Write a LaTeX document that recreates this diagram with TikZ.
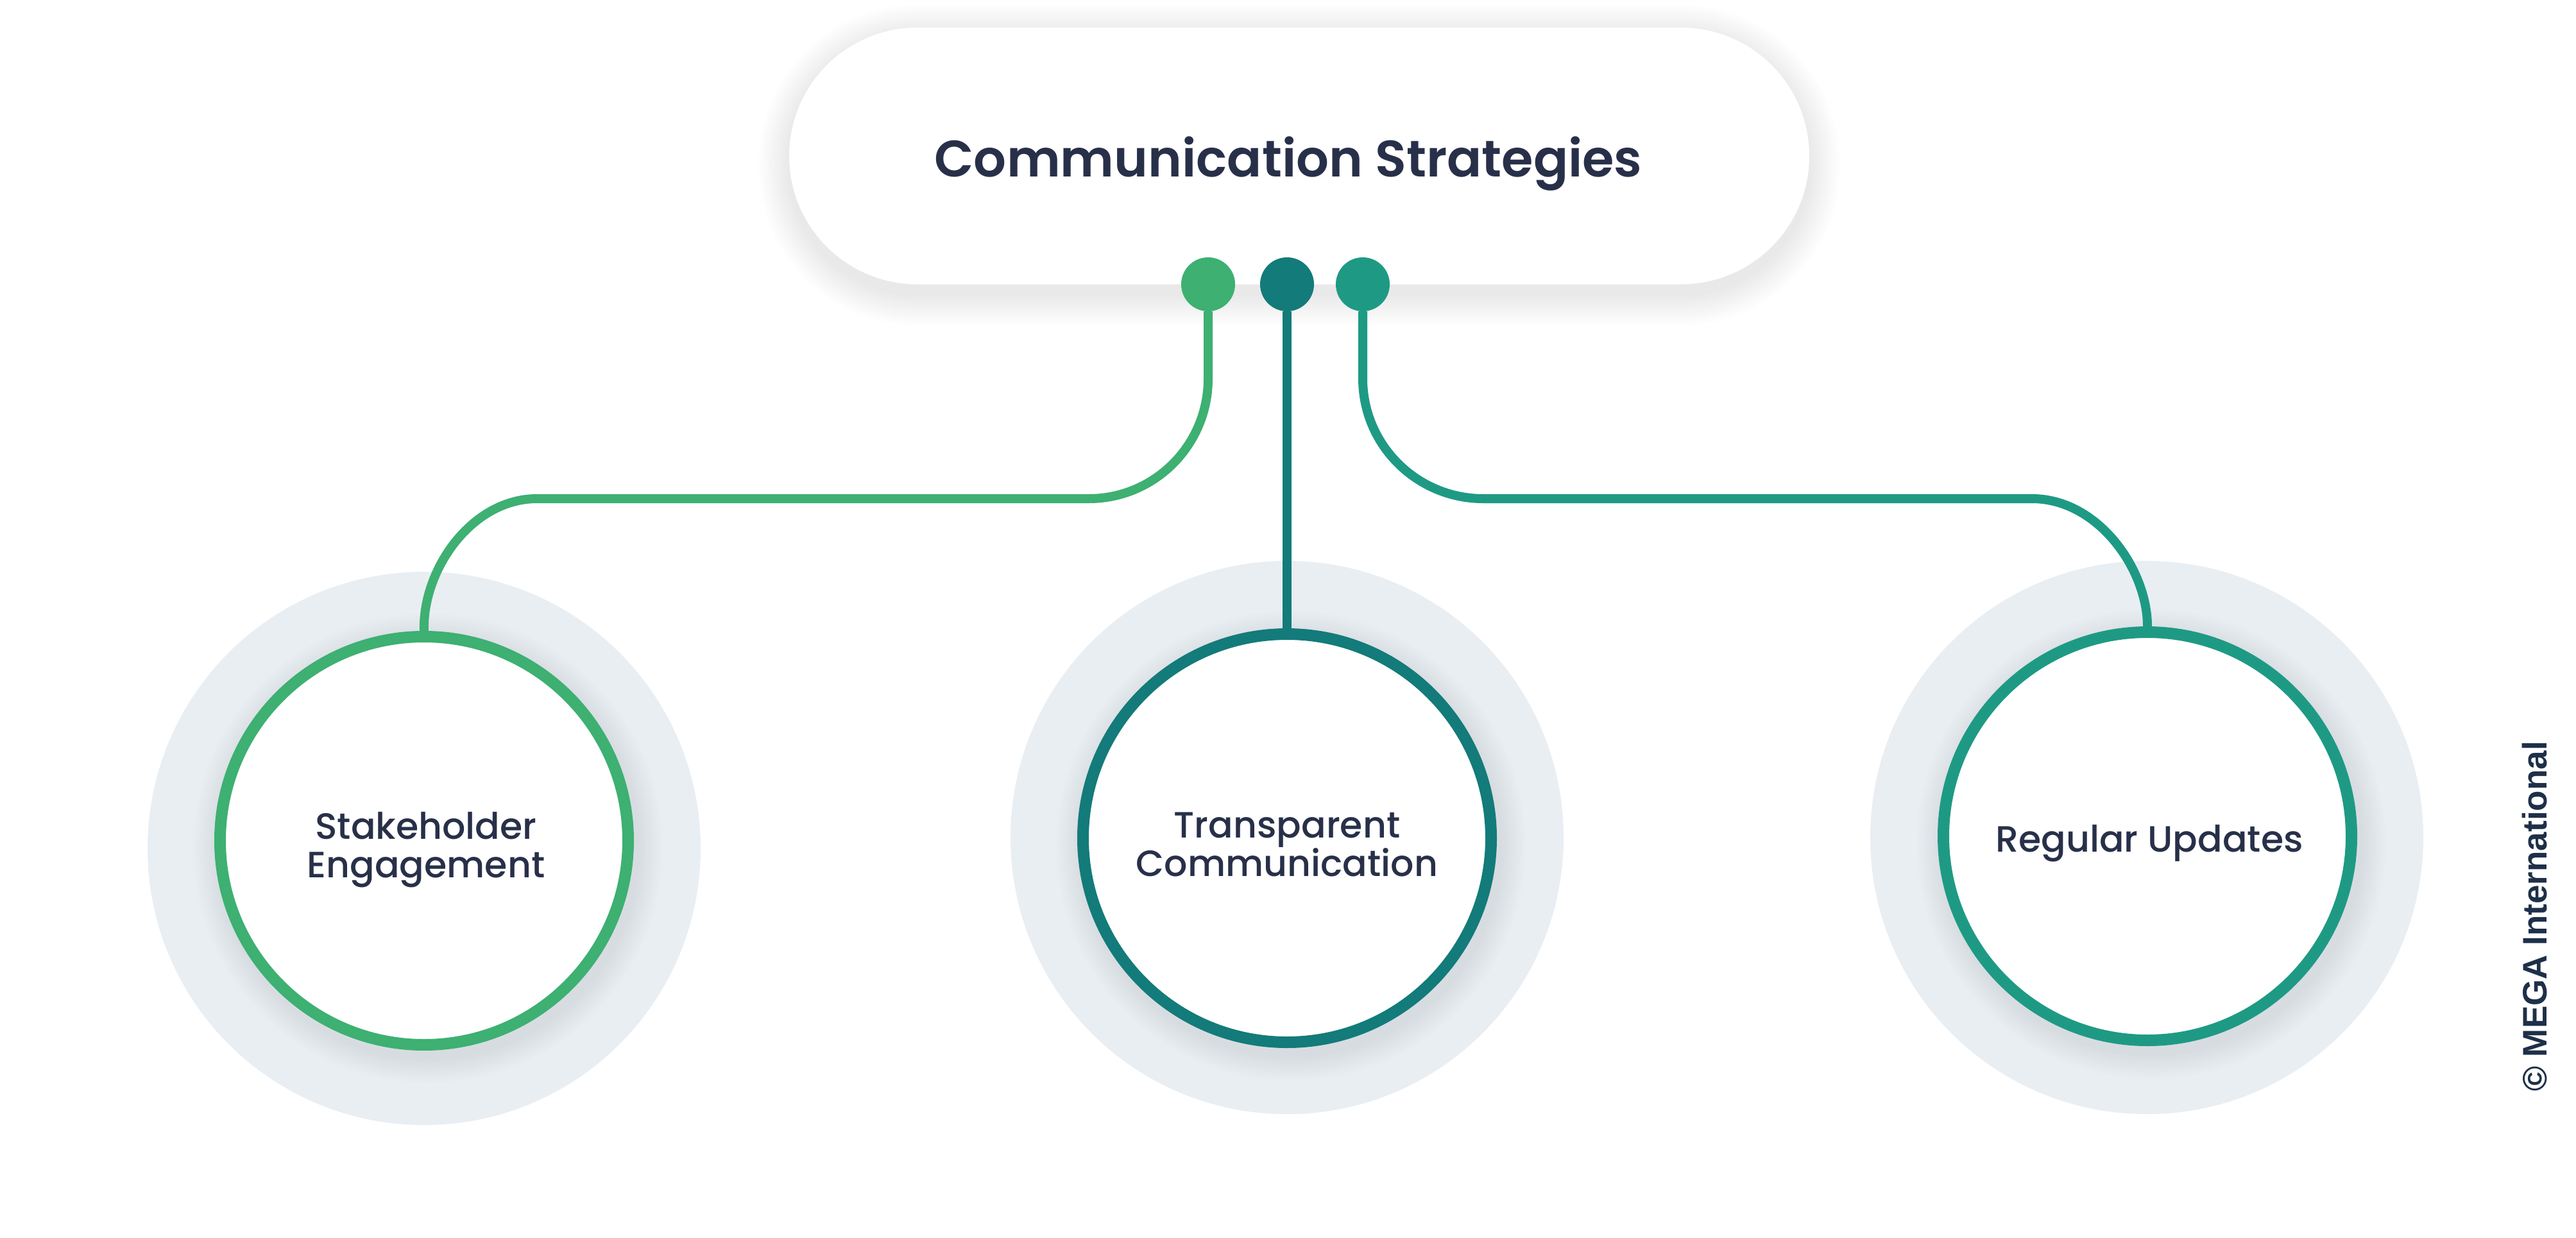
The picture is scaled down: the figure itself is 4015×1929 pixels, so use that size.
\documentclass[tikz,border=0pt]{standalone}
\usepackage{fontspec}
\setmainfont{Poppins}[BoldFont={Poppins SemiBold}]
\newfontfamily\popmed{Poppins Medium}
\newfontfamily\arialf{Liberation Sans}
\definecolor{cgreen}{HTML}{3DB072}
\definecolor{cdteal}{HTML}{137B7A}
\definecolor{cteal}{HTML}{1E9A84}
\definecolor{textc}{HTML}{283049}
\definecolor{haloc}{HTML}{E9EEF3}
\definecolor{shadc}{HTML}{5A6A80}
\definecolor{pshadc}{HTML}{707070}
\definecolor{copyc}{HTML}{1E3048}
\begin{document}
\begin{tikzpicture}[x=1pt,y=-1pt,
  halo/.style={circle, fill=haloc, minimum size=862pt, inner sep=0pt},
  ring/.style={circle, draw=#1, line width=18pt, fill=white, minimum size=636pt, inner sep=0pt},
  pill/.style={rectangle, rounded corners=200pt, minimum width=1590pt, minimum height=400pt, fill=white, inner sep=0pt},
  dot/.style={circle, fill=#1, minimum size=84pt, inner sep=0pt},
  conn/.style={draw=#1, line width=14pt, line cap=butt},
  lbl/.style={font=\popmed\fontsize{57}{60}\selectfont, align=center, text=textc, inner sep=0pt},
  titlef/.style={font=\bfseries\fontsize{80}{96}\selectfont, text=textc, inner sep=0pt},
  softshade/.style={fill=shadc, opacity=#1},
  pillshade/.style={fill=pshadc, opacity=#1}
]
\useasboundingbox (0,0) rectangle (4015,1929);
\fill[white] (0,0) rectangle (4015,1929);

% pill shadow
\foreach \k in {1,...,22}{
  \pgfmathsetmacro\e{2.2*\k}
  \pgfmathsetmacro\rr{200+\e}
  \fill[pillshade=0.005, rounded corners=\rr pt] ({1230-\e},{55-\e}) rectangle ({2820+\e},{459+\e});
}

% halos
\node[halo] (h1) at (661,1322) {};
\node[halo] (h2) at (2006,1305) {};
\node[halo] (h3) at (3346,1305) {};

% ring shadows
\foreach \cx/\cy in {661/1310, 2006/1306, 3347/1303}{
  \foreach \k in {1,...,18}{
    \fill[softshade=0.0055] ({\cx+6},{\cy+12}) circle [radius={(327+2.2*\k)*1pt}];
  }
}

% rings
\node[ring=cgreen] (c1) at (661,1310) {};
\node[ring=cdteal] (c2) at (2006,1306) {};
\node[ring=cteal] (c3) at (3347,1303) {};

% labels
\node[lbl, anchor=base] (t1) at (664,1367) {Stakeholder\\Engagement};
\node[lbl, anchor=base] (t2) at (2006,1365) {Transparent\\Communication};
\node[lbl, anchor=base] (t3) at (3350,1327) {Regular Updates};

% top pill
\node[pill] (pill) at (2025,243) {};
\node[titlef, anchor=base] (title) at (2008,275) {Communication Strategies};

% dots
\node[dot=cgreen] (d1) at (1883,443) {};
\node[dot=cdteal] (d2) at (2006,443) {};
\node[dot=cteal] (d3) at (2124,443) {};

% connectors
\draw[conn=cgreen] (d1.south) -- (1883,590) .. controls (1883,693) and (1800,777) .. (1697,777) -- (837,777) .. controls (735,777) and (658,888) .. (c1.north);
\draw[conn=cdteal] (d2.south) -- (c2.north);
\draw[conn=cteal] (d3.south) -- (2124,590) .. controls (2124,693) and (2208,777) .. (2312,777) -- (3167,777) .. controls (3270,777) and (3347,887) .. (c3.north);

% copyright
\node[font=\arialf\bfseries\fontsize{53}{60}\selectfont, text=copyc, rotate=90, inner sep=0pt] (copy) at (3951,1428) {© MEGA International};
\end{tikzpicture}
\end{document}
